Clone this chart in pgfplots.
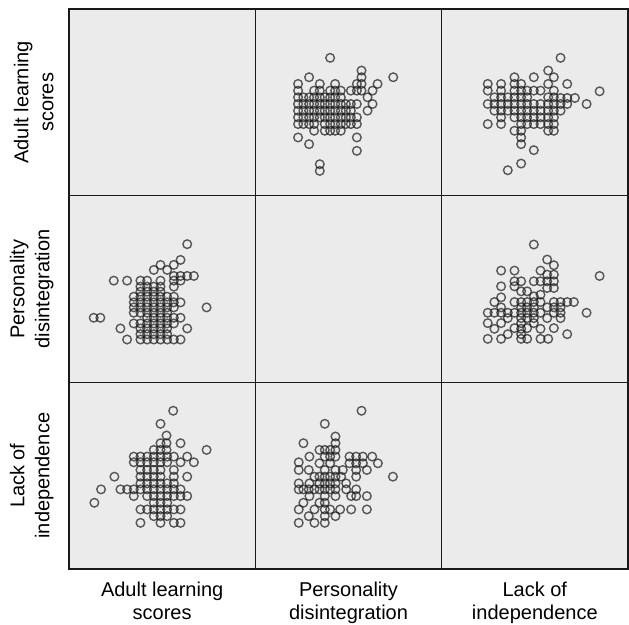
\documentclass[border=0pt]{standalone}
\usepackage{pgfplots}
\pgfplotsset{compat=1.18}
\usepackage{pgfplotstable}
\usepackage{fontspec}
\setmainfont{Liberation Sans}
\definecolor{panelbg}{RGB}{235,235,236}
\definecolor{ptcol}{RGB}{30,30,30}
\definecolor{gridcol}{RGB}{25,25,25}

% Adult learning scores (A) vs Personality disintegration (P)
\pgfplotstableread{
A P
354 413
334 366
314 351
274 351
254 336
294 336
134 304
174 304
214 304
234 304
274 304
214 286
234 286
274 286
314 318
334 318
354 318
374 318
314 304
334 304
314 286
194 256
194 239
194 224
194 208
194 176
214 271
214 256
214 239
214 224
214 208
214 176
214 161
214 144
214 128
234 271
234 256
234 239
234 224
234 208
234 193
234 176
234 161
234 144
234 128
254 286
254 271
254 256
254 239
254 224
254 208
254 193
254 176
254 161
254 144
254 128
274 271
274 256
274 239
274 224
274 208
274 193
274 176
274 161
274 144
274 128
294 256
294 239
294 224
294 208
294 193
294 176
294 161
294 144
294 128
314 256
314 239
314 224
314 193
314 176
314 128
334 239
334 193
334 128
354 161
412 224
74 193
94 193
154 161
174 128
}\APdata

% Adult learning scores (A) vs Lack of independence (L)
\pgfplotstableread{
A L
312 473
274 434
292 399
274 376
292 376
334 376
412 356
254 356
274 356
292 356
194 336
214 336
234 336
254 336
274 336
294 336
314 336
354 336
374 319
194 319
214 319
234 319
254 319
274 319
294 319
334 319
214 296
234 296
254 296
274 296
314 296
136 276
214 276
234 276
254 276
274 276
314 276
354 276
214 256
234 256
254 256
274 256
294 256
314 256
96 238
154 238
174 238
194 238
214 238
234 238
254 238
274 238
294 238
314 238
334 238
194 218
234 218
254 218
274 218
294 218
314 218
334 218
354 218
76 198
254 198
274 198
294 198
214 178
234 178
254 178
274 178
294 178
314 178
334 178
254 158
274 158
294 158
214 138
274 138
314 138
334 138
}\ALdata

% Personality disintegration (P) vs Lack of independence (L)
\pgfplotstableread{
P L
318 473
208 434
144 376
240 396
240 376
240 356
240 336
192 356
208 356
224 356
162 336
208 336
224 336
282 336
302 336
322 336
350 336
367 316
130 319
130 296
160 296
192 316
224 316
282 316
302 316
322 316
208 296
240 296
262 296
302 296
334 296
412 276
177 276
192 276
208 276
224 276
240 276
257 276
302 276
130 256
162 256
192 256
208 256
224 256
240 256
272 256
130 238
144 238
160 238
177 238
192 238
208 238
224 238
240 238
272 238
302 238
162 218
208 218
240 218
287 218
302 218
334 218
144 198
192 198
208 198
130 178
177 178
208 178
224 178
254 178
287 178
334 178
160 158
208 158
240 158
130 138
177 138
208 138
}\PLdata

\pgfplotsset{pt/.style={only marks, mark=o, mark size=4.3pt, draw=ptcol,
     mark options={draw=ptcol, fill=none, line width=1.4pt, draw opacity=0.72}}}

\begin{document}
\begin{tikzpicture}
\useasboundingbox (0,0) rectangle (629pt,624pt);
\begin{axis}[
  at={(69pt,55pt)}, anchor=south west,
  width=559pt, height=560pt, scale only axis,
  xmin=0, xmax=1674, ymin=0, ymax=1674,
  axis background/.style={fill=panelbg},
  axis line style={draw=gridcol, line width=1.2pt},
  xtick={279,837,1395},
  xticklabels={{Adult learning\\scores},{Personality\\disintegration},{Lack of\\independence}},
  ytick={279,837,1395},
  yticklabels={{Lack of\\independence},{Personality\\disintegration},{Adult learning\\scores}},
  major tick length=0pt,
  tick style={draw=none},
  xticklabel style={align=center, font=\fontsize{20}{23}\selectfont, anchor=north, yshift=-9pt},
  yticklabel style={xshift=-12pt, rotate=90, anchor=south, align=center, font=\fontsize{20}{25}\selectfont},
  extra x ticks={558,1116}, extra x tick labels={},
  extra y ticks={558,1116}, extra y tick labels={},
  extra tick style={grid=major, major grid style={draw=gridcol, line width=1.2pt}},
]
% row 1 (top): y = Adult learning scores
\addplot[pt] table[x expr=\thisrow{P}+558, y expr=\thisrow{A}+1116] {\APdata};
\addplot[pt] table[x expr=\thisrow{L}+1116, y expr=\thisrow{A}+1116] {\ALdata};
% row 2: y = Personality disintegration
\addplot[pt] table[x expr=\thisrow{A}, y expr=\thisrow{P}+558] {\APdata};
\addplot[pt] table[x expr=\thisrow{L}+1116, y expr=\thisrow{P}+558] {\PLdata};
% row 3: y = Lack of independence
\addplot[pt] table[x expr=\thisrow{A}, y expr=\thisrow{L}] {\ALdata};
\addplot[pt] table[x expr=\thisrow{P}+558, y expr=\thisrow{L}] {\PLdata};
\end{axis}
\end{tikzpicture}
\end{document}
